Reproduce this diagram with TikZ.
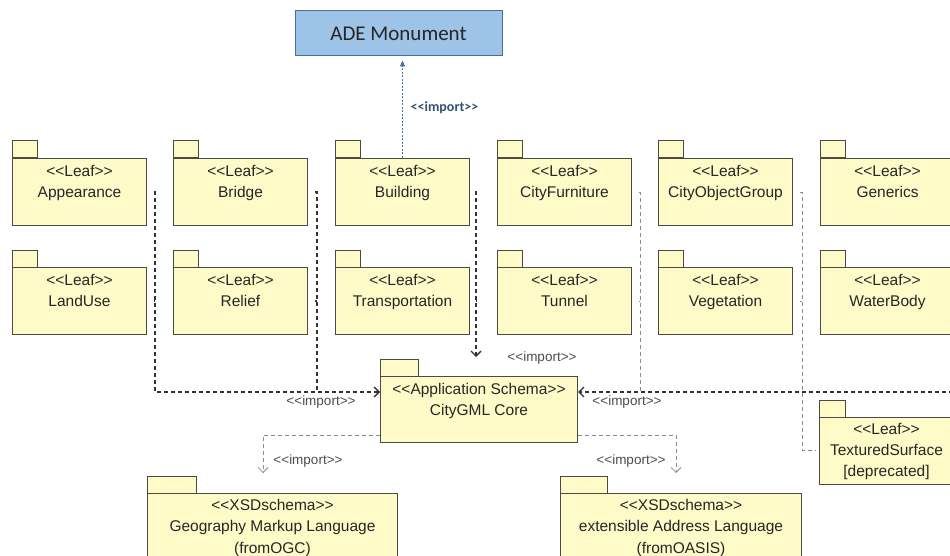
\documentclass[tikz,border=0pt]{standalone}
\usepackage{fontspec}
\setmainfont{Liberation Sans}[Ligatures=TeXOff]
\newfontfamily\calibri{Carlito}[Ligatures=TeXOff]
\usetikzlibrary{arrows.meta}

\definecolor{pkgfill}{RGB}{255,251,200}
\definecolor{pkgline}{RGB}{75,75,65}
\definecolor{adefill}{RGB}{157,195,230}
\definecolor{adeline}{RGB}{65,113,156}
\definecolor{impblue}{RGB}{50,82,115}

\tikzset{
    pkg/.style={draw=pkgline,fill=pkgfill,line width=1pt,anchor=north west,
        minimum width=134pt,minimum height=67pt,inner sep=0pt,align=center,
        text=black!85,font=\fontsize{15.5}{21}\selectfont},
    tab/.style={draw=pkgline,fill=pkgfill,line width=1pt},
    dep/.style={draw=black!80,line width=1.3pt,dash pattern=on 4pt off 3pt},
    depl/.style={draw=black!45,line width=0.8pt,dash pattern=on 4pt off 3pt},
    open/.style={-{Straight Barb[length=5pt,width=10pt]}},
    imp/.style={text=black!70,font=\fontsize{13.5}{15}\selectfont}
}

\begin{document}
\begin{tikzpicture}[x=1pt,y=-1pt]

    \clip (0,0) rectangle (950,556);

    \node (ade) at (398.5,33.5) [draw=adeline,fill=adefill,line width=1pt,
        minimum width=207pt,minimum height=45pt,font=\calibri\fontsize{21}{24}\selectfont,
        text=black!85] {ADE Monument};

    % leaf packages
    \begin{scope}[every node/.style={pkg}]
        \node (app) at (12,158) {<<Leaf>>\\Appearance\\\mbox{}};
        \node (bri) at (173,158) {<<Leaf>>\\Bridge\\\mbox{}};
        \node (bui) at (335,158) {<<Leaf>>\\Building\\\mbox{}};
        \node (cfu) at (497,158) {<<Leaf>>\\CityFurniture\\\mbox{}};
        \node (cog) at (658,158) {<<Leaf>>\\CityObjectGroup\\\mbox{}};
        \node (gen) at (820,158) {<<Leaf>>\\Generics\\\mbox{}};
        \node (lan) at (12,267) {<<Leaf>>\\LandUse\\\mbox{}};
        \node (rel) at (173,267) {<<Leaf>>\\Relief\\\mbox{}};
        \node (tra) at (335,267) {<<Leaf>>\\Transportation\\\mbox{}};
        \node (tun) at (497,267) {<<Leaf>>\\Tunnel\\\mbox{}};
        \node (veg) at (658,267) {<<Leaf>>\\Vegetation\\\mbox{}};
        \node (wat) at (820,267) {<<Leaf>>\\WaterBody\\\mbox{}};
        \node (tex) at (819,417) {<<Leaf>>\\TexturedSurface\\{[deprecated]}};
        \node (core) at (380,376) [minimum width=197pt,minimum height=66pt]
            {<<Application Schema>>\\CityGML Core\\\mbox{}};
        \node (gml) at (147,493) [minimum width=250pt,minimum height=68pt,
            font=\fontsize{15.5}{21.5}\selectfont]
            {<<XSDschema>>\\Geography Markup Language\\(fromOGC)};
        \node (xal) at (560,493) [minimum width=241pt,minimum height=68pt,
            font=\fontsize{15.5}{21.5}\selectfont]
            {<<XSDschema>>\\extensible Address Language\\(fromOASIS)};
    \end{scope}

    % package tabs
    \foreach \n/\w in {app/25,bri/25,bui/25,cfu/25,cog/25,gen/25,lan/25,rel/25,
        tra/25,tun/25,veg/25,wat/25,tex/26,core/38,gml/49,xal/47}
        \draw[tab] (\n.north west) rectangle ++(\w,-17);

    \coordinate (bl) at (155,392);
    \coordinate (br) at (317,392);
    \coordinate (bt) at (476,357);
    \coordinate (cr) at (640,392);
    \coordinate (ts) at (802,450);
    \coordinate (re) at (960,392);
    \coordinate (gt) at (263,473);
    \coordinate (xt) at (676,473);

    % imports into the core
    \draw[dep,open,shorten <=7pt] (app.east) -| (bl) -- (bl -| core.west);
    \draw[dep,shorten <=7pt] (lan.east) -- (lan.east -| bl);
    \draw[dep,shorten <=7pt] (bri.east) -| (br);
    \draw[dep,shorten <=7pt] (rel.east) -- (rel.east -| br);
    \draw[dep,open,shorten <=7pt] (bui.east) -| (bt);
    \draw[dep,shorten <=7pt] (tra.east) -- (tra.east -| bt);
    \draw[dep,open] (re) -- (re -| core.east);
    \draw[depl,shorten <=7pt] (cfu.east) -| (cr);
    \draw[depl,shorten <=7pt] (tun.east) -- (tun.east -| cr);
    \draw[depl,shorten <=7pt,shorten >=3pt] (cog.east) -| (ts) -- (ts -| tex.west);
    \draw[depl,shorten <=7pt] (veg.east) -- (veg.east -| ts);

    % imports out of the core
    \draw[depl,open] ([yshift=8pt]core.south west) -| (gt);
    \draw[depl,open] ([yshift=8pt]core.south east) -| (xt);

    \draw[adeline,line width=0.8pt,dash pattern=on 2pt off 1.5pt,
        -{Triangle[length=6pt,width=5pt]},shorten >=4pt] (bui.north) -- (bui.north |- ade.south);

    % labels
    \node[text=impblue,font=\calibri\bfseries\fontsize{14}{16}\selectfont] (lade) at (444.5,108) {<<import>>};
    \begin{scope}[every node/.style={imp}]
        \node (l1) at (321,402) {<<import>>};
        \node (l2) at (627,402) {<<import>>};
        \node (l3) at (542,358) {<<import>>};
        \node (l4) at (308,461) {<<import>>};
        \node (l5) at (631,461) {<<import>>};
    \end{scope}

\end{tikzpicture}
\end{document}
